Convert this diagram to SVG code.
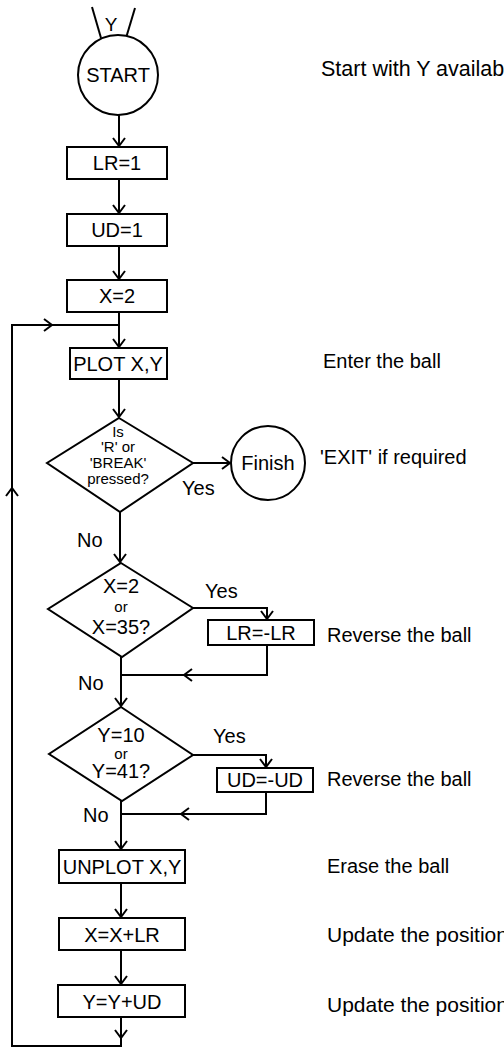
<svg xmlns="http://www.w3.org/2000/svg" width="504" height="1051" viewBox="0 0 504 1051">
<style>
.s{fill:none;stroke:#000;stroke-width:2}
.b{fill:#fff;stroke:#000;stroke-width:2}
.t{font-family:"Liberation Sans",Arial,sans-serif;font-size:20px;fill:#000}
.m{text-anchor:middle}
.d{font-family:"Liberation Sans",Arial,sans-serif;font-size:20px;fill:#000;text-anchor:middle}
.sm{font-family:"Liberation Sans",Arial,sans-serif;font-size:15px;fill:#000;text-anchor:middle}
</style>
<defs>
<marker id="ah" viewBox="0 0 10 14" refX="9" refY="7" markerWidth="10" markerHeight="14" markerUnits="userSpaceOnUse" orient="auto">
<path d="M1,1 L9,7 L1,13" fill="none" stroke="#000" stroke-width="2"/>
</marker>
</defs>
<g id="connectors">
<line class="s" x1="92" y1="7" x2="101" y2="38"/>
<line class="s" x1="135" y1="8" x2="126" y2="38"/>
<line class="s" x1="119" y1="115" x2="119" y2="146" marker-end="url(#ah)"/>
<line class="s" x1="119" y1="179" x2="119" y2="213" marker-end="url(#ah)"/>
<line class="s" x1="119" y1="246" x2="119" y2="279" marker-end="url(#ah)"/>
<line class="s" x1="119" y1="312" x2="119" y2="347" marker-end="url(#ah)"/>
<line class="s" x1="119" y1="379" x2="119" y2="417" marker-end="url(#ah)"/>
<line class="s" x1="193" y1="463" x2="230" y2="463" marker-end="url(#ah)"/>
<line class="s" x1="120" y1="512" x2="120" y2="562" marker-end="url(#ah)"/>
<polyline class="s" points="193,608 267,608 267,619" marker-end="url(#ah)"/>
<polyline class="s" points="267,645 267,675 184,675" marker-end="url(#ah)"/>
<line class="s" x1="184" y1="675" x2="121" y2="675"/>
<line class="s" x1="121" y1="657" x2="121" y2="706" marker-end="url(#ah)"/>
<polyline class="s" points="193,755 266,755 266,767" marker-end="url(#ah)"/>
<polyline class="s" points="266,792 266,814 181,814" marker-end="url(#ah)"/>
<line class="s" x1="181" y1="814" x2="121" y2="814"/>
<line class="s" x1="121" y1="801" x2="121" y2="849" marker-end="url(#ah)"/>
<line class="s" x1="121" y1="883" x2="121" y2="917" marker-end="url(#ah)"/>
<line class="s" x1="121" y1="950" x2="121" y2="984" marker-end="url(#ah)"/>
<line class="s" x1="121" y1="1017" x2="121" y2="1038" marker-end="url(#ah)"/>
<polyline class="s" points="121,1038 121,1046 12,1046 12,488"/>
<line class="s" x1="12" y1="500" x2="12" y2="488" marker-end="url(#ah)"/>
<polyline class="s" points="12,488 12,325 52,325"/>
<line class="s" x1="40" y1="325" x2="52" y2="325" marker-end="url(#ah)"/>
<line class="s" x1="52" y1="325" x2="119" y2="325"/>
</g>
<g id="start">
<circle class="b" cx="118" cy="75" r="40"/>
<text class="t m" x="118" y="82">START</text>
<text class="t m" x="111" y="31" style="font-size:19px">Y</text>
</g>
<g id="lr1"><rect class="b" x="67" y="147" width="100" height="32"/><text class="t m" x="117" y="170">LR=1</text></g>
<g id="ud1"><rect class="b" x="67" y="214" width="100" height="32"/><text class="t m" x="117" y="237">UD=1</text></g>
<g id="x2"><rect class="b" x="67" y="280" width="100" height="32"/><text class="t m" x="117" y="303">X=2</text></g>
<g id="plot"><rect class="b" x="70" y="348" width="97" height="31"/><text class="t m" x="118" y="371">PLOT X,Y</text></g>
<g id="dec1">
<polygon class="b" points="119,418 193,463 120,512 47,463"/>
<text class="sm" x="118" y="437">Is</text>
<text class="sm" x="118" y="452">'R' or</text>
<text class="sm" x="118" y="468">'BREAK'</text>
<text class="sm" x="118" y="484">pressed?</text>
</g>
<g id="finish"><circle class="b" cx="268" cy="463" r="37"/><text class="t m" x="268" y="470">Finish</text></g>
<g id="dec2">
<polygon class="b" points="121,563 193,608 122,657 48,609"/>
<text class="d" x="121" y="593">X=2</text>
<text class="sm" x="121" y="612">or</text>
<text class="d" x="121" y="634">X=35?</text>
</g>
<g id="lrneg"><rect class="b" x="208" y="620" width="106" height="25"/><text class="t m" x="261" y="640">LR=-LR</text></g>
<g id="dec3">
<polygon class="b" points="121,707 193,755 122,801 49,754"/>
<text class="d" x="121" y="742">Y=10</text>
<text class="sm" x="121" y="759">or</text>
<text class="d" x="121" y="778">Y=41?</text>
</g>
<g id="udneg"><rect class="b" x="217" y="768" width="96" height="24"/><text class="t m" x="265" y="787">UD=-UD</text></g>
<g id="unplot"><rect class="b" x="59" y="850" width="126" height="33"/><text class="t m" x="122" y="874">UNPLOT X,Y</text></g>
<g id="xupd"><rect class="b" x="59" y="918" width="126" height="32"/><text class="t m" x="122" y="942">X=X+LR</text></g>
<g id="yupd"><rect class="b" x="58" y="985" width="127" height="32"/><text class="t m" x="122" y="1009">Y=Y+UD</text></g>
<g id="labels">
<text class="t" x="182" y="495">Yes</text>
<text class="t" x="77" y="547">No</text>
<text class="t" x="205" y="598">Yes</text>
<text class="t" x="78" y="690">No</text>
<text class="t" x="213" y="743">Yes</text>
<text class="t" x="83" y="822">No</text>
</g>
<g id="notes">
<text class="t" x="321" y="76" style="font-size:21.5px">Start with Y available</text>
<text class="t" x="323" y="368">Enter the ball</text>
<text class="t" x="320" y="464">'EXIT' if required</text>
<text class="t" x="327" y="642">Reverse the ball</text>
<text class="t" x="327" y="786">Reverse the ball</text>
<text class="t" x="327" y="873">Erase the ball</text>
<text class="t" x="327" y="942" style="font-size:21px">Update the position</text>
<text class="t" x="327" y="1012" style="font-size:21px">Update the position</text>
</g>
</svg>
